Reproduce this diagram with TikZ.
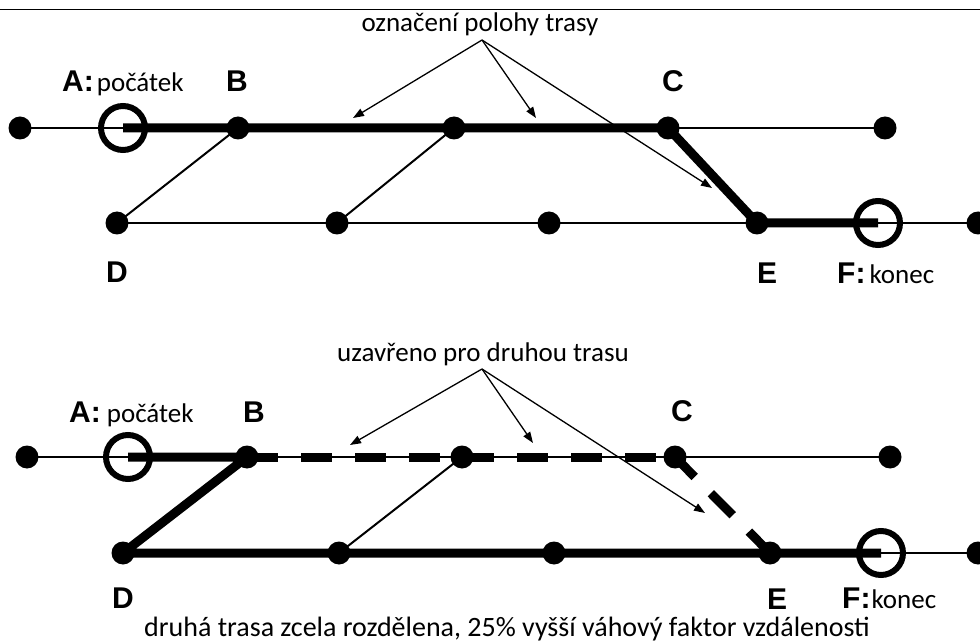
\documentclass[tikz,border=0pt]{standalone}
\usepackage{fontspec}
\setmainfont{Carlito}
\newfontfamily\letterfont{Liberation Sans}
\usetikzlibrary{arrows.meta,backgrounds}

\tikzset{
  dot/.style={circle,fill=black,inner sep=0pt,minimum size=23pt},
  ring/.style={circle,draw=black,line width=6pt,inner sep=0pt,minimum size=44pt},
  track/.style={line width=2pt},
  route/.style={line width=9pt,line join=round},
  closed/.style={route,dash pattern=on 31pt off 23pt},
  pointer/.style={line width=1.3pt,-{Triangle[length=11pt,width=8pt]}},
  lbl/.style={font=\fontsize{27}{32}\selectfont,inner sep=0pt},
}
\newcommand{\stn}[1]{{\fontsize{30}{34}\letterfont\bfseries #1}}

\begin{document}
\begin{tikzpicture}[x=1pt,y=-1pt]
\useasboundingbox (0,0) rectangle (980,644);
\draw[line width=1.5pt] (0,9.5) -- (980,9.5);

% first route
\node[dot] (t1) at (20,128) {};
\node[ring] (tA) at (123,128) {};
\node[dot] (tB) at (238,128) {};
\node[dot] (tM) at (454,128) {};
\node[dot] (tC) at (668,128) {};
\node[dot] (t2) at (885,128) {};
\node[dot] (tD) at (117,223) {};
\node[dot] (tG) at (337,223) {};
\node[dot] (tH) at (549,223) {};
\node[dot] (tE) at (757,223) {};
\node[ring] (tF) at (878,223) {};
\node[dot] (t3) at (978,223) {};

\begin{scope}[on background layer]
\draw[track] (t1.center) -- (t2.center);
\draw[track] (tD.center) -- (t3.center);
\draw[track] (tB.center) -- (tD.center);
\draw[track] (tM.center) -- (tG.center);
\draw[route] (tA.center) -- (tB.center) -- (tM.center) -- (tC.center) -- (tE.center) -- (tF.center);
\end{scope}

\node[lbl,anchor=base west] (tlA) at (62,92) {\stn{A:}\hspace{3pt}počátek};
\node[lbl,anchor=base] (tlB) at (237,92) {\stn{B}};
\node[lbl,anchor=base] (tlC) at (673,92) {\stn{C}};
\node[lbl,anchor=base] (tlD) at (117,283) {\stn{D}};
\node[lbl,anchor=base] (tlE) at (767,284) {\stn{E}};
\node[lbl,anchor=base west] (tlF) at (837,284) {\stn{F:}\hspace{4pt}konec};

\node[lbl,anchor=base] (tnote) at (480,32) {označení polohy trasy};
\coordinate (tsrc) at (482,40);
\coordinate (tp1) at (353,118);
\coordinate (tp2) at (536,118);
\coordinate (tp3) at (712,188);
\draw[pointer] (tsrc) -- (tp1);
\draw[pointer] (tsrc) -- (tp2);
\draw[pointer] (tsrc) -- (tp3);

% second route
\node[dot] (b1) at (27,457) {};
\node[ring] (bA) at (128,457) {};
\node[dot] (bB) at (247,457) {};
\node[dot] (bM) at (462,457) {};
\node[dot] (bC) at (675,457) {};
\node[dot] (b2) at (890,457) {};
\node[dot] (bD) at (123,553) {};
\node[dot] (bG) at (339,553) {};
\node[dot] (bH) at (554,553) {};
\node[dot] (bE) at (770,553) {};
\node[ring] (bF) at (881,553) {};
\node[dot] (b3) at (978,553) {};

\begin{scope}[on background layer]
\draw[track] (b1.center) -- (b2.center);
\draw[track] (bF.center) -- (b3.center);
\draw[track] (bM.center) -- (bG.center);
\draw[route] (bA.center) -- (bB.center) -- (bD.center) -- (bE.center) -- (bF.center);
\draw[closed] (bB.center) -- (bM.center) -- (bC.center);
\draw[closed,dash phase=3pt] (bC.center) -- (bE.center);
\end{scope}

\node[lbl,anchor=base west] (blA) at (69,422) {\stn{A:}\hspace{6pt}počátek};
\node[lbl,anchor=base] (blB) at (254,422) {\stn{B}};
\node[lbl,anchor=base] (blC) at (682,421) {\stn{C}};
\node[lbl,anchor=base] (blD) at (123,608) {\stn{D}};
\node[lbl,anchor=base] (blE) at (777,609) {\stn{E}};
\node[lbl,anchor=base west] (blF) at (842,608) {\stn{F:}\hspace{1pt}konec};

\node[lbl,anchor=base] (bnote) at (483,362) {uzavřeno pro druhou trasu};
\coordinate (bsrc) at (482,369);
\coordinate (bp1) at (350,445);
\coordinate (bp2) at (533,443);
\coordinate (bp3) at (705,513);
\draw[pointer] (bsrc) -- (bp1);
\draw[pointer] (bsrc) -- (bp2);
\draw[pointer] (bsrc) -- (bp3);

\node[lbl,anchor=base,font=\fontsize{28}{33}\selectfont] (footer) at (507,636) {druhá trasa zcela rozdělena, 25\% vyšší váhový faktor vzdálenosti};
\end{tikzpicture}
\end{document}
